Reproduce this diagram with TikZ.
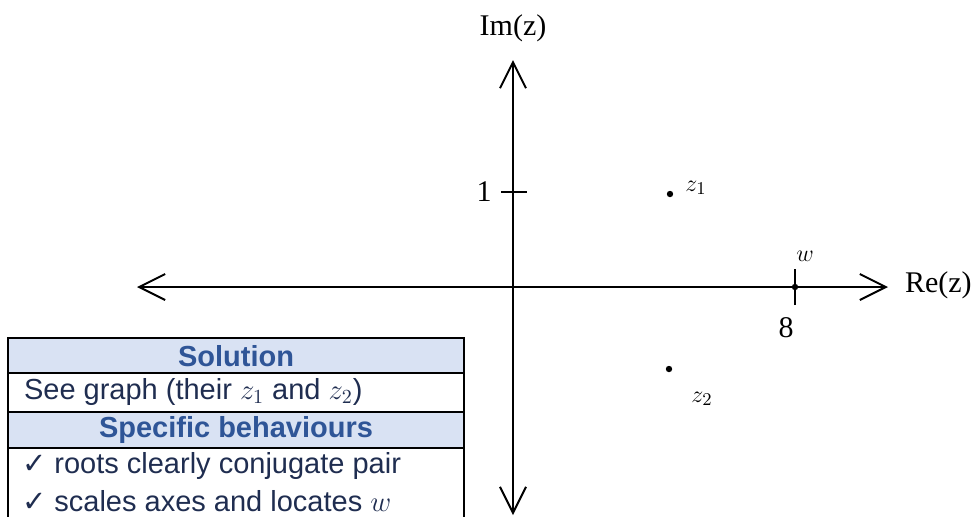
\documentclass[tikz,border=0pt]{standalone}
\usepackage{fontspec}
\setmainfont{Liberation Sans}
\newfontfamily\axisfont{Liberation Serif}
\newfontfamily\symfont{DejaVu Sans}
\usetikzlibrary{arrows.meta}
\definecolor{headblue}{HTML}{2F5597}
\definecolor{bodyblue}{HTML}{1F2D50}
\definecolor{headfill}{HTML}{D9E2F3}

\begin{document}
\begin{tikzpicture}[x=0.5pt,y=-0.5pt,
    axis/.style={line width=1pt,
      {Straight Barb[length=13pt,width=13pt]}-{Straight Barb[length=13pt,width=13pt]}},
    dot/.style={circle, fill=black, inner sep=0pt, minimum size=3.2pt},
    lab/.style={font=\axisfont\fontsize{15}{18}\selectfont},
    small/.style={font=\fontsize{13}{15}\selectfont},
    head/.style={font=\bfseries\fontsize{14.5}{17}\selectfont, text=headblue},
    body/.style={font=\fontsize{14.5}{17}\selectfont, text=bodyblue, anchor=west}]
        \useasboundingbox (0,0) rectangle (971,516);

        % Axes
        \coordinate (xl) at (137,287);
        \coordinate (xr) at (888,287);
        \coordinate (yt) at (513,60);
        \coordinate (yb) at (513,515);
        \draw[axis] (xl) -- (xr);
        \draw[axis] (yb) -- (yt);
        \node[lab] (im) at (513,28) {Im(z)};
        \node[lab, anchor=west] (re) at (898,285) {Re(z)};

        % Scale marks
        \coordinate (t1) at (513,192);
        \draw[line width=0.8pt] ([xshift=-6]t1) -- ([xshift=7]t1);
        \node[lab] (one) at (484,192) {1};

        % Points
        \node[dot] (z1) at (670,194) {};
        \node[dot] (z2) at (669,369) {};
        \node[dot] (w) at (795,287) {};
        \draw[line width=0.8pt] ([yshift=-9]w.center) -- ([yshift=9]w.center);
        \node[small] (lz1) at (696,188) {$z_1$};
        \node[small] (lz2) at (702,399) {$z_2$};
        \node[small] (lw) at (805,256) {$w$};
        \node[lab] (eight) at (786,328) {8};

        % Marking table
        \fill[headfill] (8,338) rectangle (464,373);
        \fill[headfill] (8,412) rectangle (464,448);
        \draw[line width=1pt] (8,517) -- (8,338) -- (464,338) -- (464,517);
        \foreach \r in {373,412,448} {
            \draw[line width=1pt] (8,\r) -- (464,\r);
        }
        \node[head] (sol) at (236,356) {Solution};
        \node[body] (see) at (17,392) {See graph (their $z_1$ and $z_2$)};
        \node[head] (spec) at (236,430) {Specific behaviours};
        \node[body] (c1) at (15,466) {{\symfont\char"2713} roots clearly conjugate pair};
        \node[body] (c2) at (15,501) {{\symfont\char"2713} scales axes and locates $w$};
    \end{tikzpicture}
\end{document}
